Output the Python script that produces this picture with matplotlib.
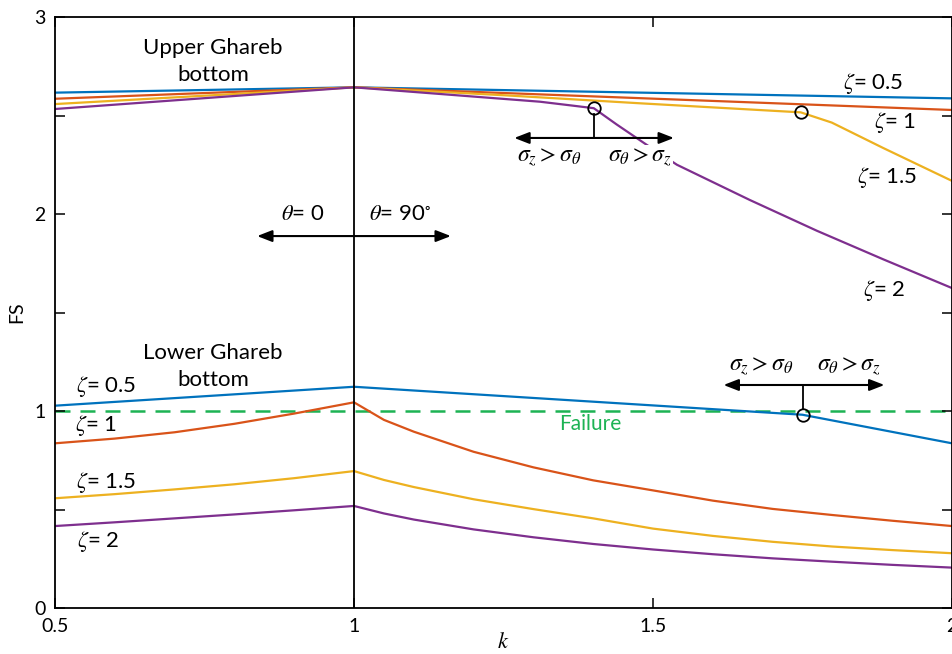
import matplotlib
matplotlib.use("Agg")
import matplotlib.pyplot as plt

plt.rcParams['font.family'] = ['Lato', 'DejaVu Sans']
plt.rcParams['mathtext.fontset'] = 'stix'

# ---------------- data ----------------
zeta_labels = ["0.5", "1", "1.5", "2"]
colors = ["#0072BD", "#D95319", "#EDB120", "#7E2F8E"]

# Upper Ghareb bottom
up_k_05 = [0.5, 1.0, 2.0]
up_fs_05 = [2.616, 2.643, 2.587]
up_k_1 = [0.5, 1.0, 2.0]
up_fs_1 = [2.585, 2.643, 2.528]
up_k_15 = [0.5, 1.0, 1.25, 1.478, 1.747, 1.799, 1.885, 2.0]
up_fs_15 = [2.558, 2.643, 2.603, 2.562, 2.516, 2.464, 2.335, 2.168]
up_k_2 = [0.5, 1.0, 1.311, 1.366, 1.401, 1.439, 1.49, 1.54, 1.662, 1.774, 1.885, 2.0]
up_fs_2 = [2.533, 2.643, 2.570, 2.550, 2.537, 2.455, 2.350, 2.250, 2.071, 1.915, 1.770, 1.624]

# Lower Ghareb bottom
low_k_05 = [0.5, 1.0, 1.75, 2.0]
low_fs_05 = [1.027, 1.123, 0.981, 0.836]
low_k = [0.5, 0.6, 0.7, 0.8, 0.9, 1.0, 1.05, 1.1, 1.2, 1.3, 1.4, 1.5, 1.6, 1.7, 1.8, 1.9, 2.0]
low_fs_1 = [0.836, 0.860, 0.892, 0.935, 0.987, 1.044, 0.955, 0.895, 0.793, 0.714, 0.648, 0.597, 0.545, 0.503, 0.472, 0.443, 0.416]
low_fs_15 = [0.557, 0.578, 0.602, 0.628, 0.659, 0.695, 0.650, 0.614, 0.552, 0.502, 0.455, 0.403, 0.366, 0.336, 0.312, 0.294, 0.278]
low_fs_2 = [0.416, 0.435, 0.455, 0.475, 0.496, 0.518, 0.480, 0.449, 0.399, 0.359, 0.325, 0.297, 0.273, 0.252, 0.235, 0.219, 0.205]

# transition points (circles)
trans_k = [1.401, 1.747, 1.750]
trans_fs = [2.537, 2.516, 0.981]

x_ticks = [0.5, 1, 1.5, 2]
x_ticklabels = ["0.5", "1", "1.5", "2"]
y_ticks = [0, 0.5, 1, 1.5, 2, 2.5, 3]
y_ticklabels = ["0", "", "1", "", "2", "", "3"]

# ---------------- figure ----------------
fig = plt.figure(figsize=(9.52, 6.54), dpi=100)
ax = fig.add_axes([55/952, 46/654, 1 - 55/952, (608-17)/654])
ax.set_xlim(0.5, 2)
ax.set_ylim(0, 3)

lw = 1.6
ax.plot(up_k_05, up_fs_05, color=colors[0], lw=lw)
ax.plot(up_k_1, up_fs_1, color=colors[1], lw=lw)
ax.plot(up_k_15, up_fs_15, color=colors[2], lw=lw)
ax.plot(up_k_2, up_fs_2, color=colors[3], lw=lw)

ax.plot(low_k_05, low_fs_05, color=colors[0], lw=lw)
ax.plot(low_k, low_fs_1, color=colors[1], lw=lw)
ax.plot(low_k, low_fs_15, color=colors[2], lw=lw)
ax.plot(low_k, low_fs_2, color=colors[3], lw=lw)

# failure line
ax.axhline(1.0, color="#1DB354", lw=1.8, ls=(0, (6, 4)), zorder=1)
ax.text(1.395, 0.935, "Failure", color="#1DB354", fontsize=15, ha="center", va="center")

# vertical line at k = 1
ax.axvline(1.0, color="black", lw=1.3, zorder=3)

# circles
ax.plot(trans_k, trans_fs, ls="none", marker="o", ms=9, mfc="none", mec="black", mew=1.3, zorder=6)

arrow_kw = dict(arrowstyle="<|-|>,head_length=0.9,head_width=0.35", color="black", lw=1.5, shrinkA=0, shrinkB=0)

# theta arrow
ax.annotate("", xy=(0.838, 1.888), xytext=(1.162, 1.888), arrowprops=arrow_kw, zorder=5)
ax.text(0.915, 2.0, r"$\theta$= 0", fontsize=16, ha="center", va="center")
ax.text(1.077, 2.0, r"$\theta$= 90$^{\circ}$", fontsize=16, ha="center", va="center")

# upper transition arrow
ax.annotate("", xy=(1.268, 2.386), xytext=(1.535, 2.386), arrowprops=arrow_kw, zorder=5)
ax.plot([1.401, 1.401], [2.386, 2.537 - 0.03], color="black", lw=1.3, zorder=5)
ax.text(1.326, 2.285, r"$\sigma_z > \sigma_\theta$", fontsize=17, ha="center", va="center",
        bbox=dict(facecolor="white", edgecolor="none", pad=1), zorder=4)
ax.text(1.478, 2.285, r"$\sigma_\theta > \sigma_z$", fontsize=17, ha="center", va="center",
        bbox=dict(facecolor="white", edgecolor="none", pad=1), zorder=4)

# lower transition arrow
ax.annotate("", xy=(1.618, 1.132), xytext=(1.887, 1.132), arrowprops=arrow_kw, zorder=5)
ax.plot([1.75, 1.75], [1.132, 0.981 + 0.03], color="black", lw=1.3, zorder=5)
ax.text(1.68, 1.222, r"$\sigma_z > \sigma_\theta$", fontsize=17, ha="center", va="center")
ax.text(1.828, 1.222, r"$\sigma_\theta > \sigma_z$", fontsize=17, ha="center", va="center")

# region titles
ax.text(0.764, 2.775, "Upper Ghareb\nbottom", fontsize=16, ha="center", va="center", linespacing=1.45)
ax.text(0.764, 1.225, "Lower Ghareb\nbottom", fontsize=16, ha="center", va="center", linespacing=1.45)

# zeta labels upper (right side)
up_lab_pos = [(1.868, 2.66), (1.905, 2.467), (1.891, 2.183), (1.886, 1.614)]
for lab, (x, y) in zip(zeta_labels, up_lab_pos):
    ax.text(x, y, r"$\zeta$= " + lab, fontsize=16, ha="center", va="center")

# zeta labels lower (left side)
low_lab_pos = [(0.586, 1.122), (0.568, 0.924), (0.586, 0.635), (0.572, 0.34)]
for lab, (x, y) in zip(zeta_labels, low_lab_pos):
    ax.text(x, y, r"$\zeta$= " + lab, fontsize=16, ha="center", va="center")

# axes styling
ax.set_xticks(x_ticks)
ax.set_xticklabels(x_ticklabels)
ax.set_yticks(y_ticks)
ax.set_yticklabels(y_ticklabels)
ax.tick_params(direction="in", length=7, width=1.1, labelsize=14, top=True, right=True, pad=7)
for s in ax.spines.values():
    s.set_linewidth(1.3)
ax.set_xlabel(r"$k$", fontsize=16, labelpad=-2)
ax.set_ylabel("FS", fontsize=14, labelpad=6)

fig.savefig("out.png", dpi=100)
